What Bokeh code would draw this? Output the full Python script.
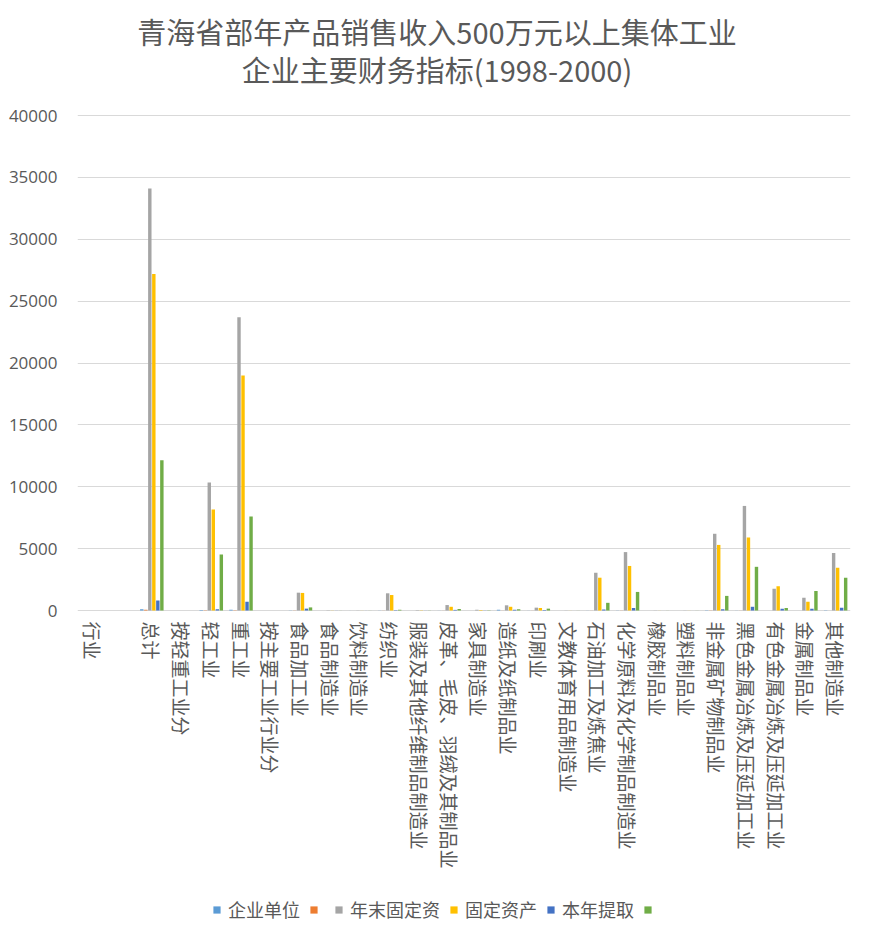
from bokeh.plotting import figure
from bokeh.models import (ColumnDataSource, FactorRange, Range1d, Legend, LegendItem,
                          FixedTicker, NumeralTickFormatter)
from bokeh.transform import dodge
from bokeh.core.properties import value
from bokeh.embed import file_html
from bokeh.resources import INLINE
import math

title_lines = ["青海省部年产品销售收入500万元以上集体工业", "企业主要财务指标(1998-2000)"]

categories = ["行业", " ", "总计", "按轻重工业分", "轻工业", "重工业", "按主要工业行业分",
              "食品加工业", "食品制造业", "饮料制造业", "纺织业", "服装及其他纤维制品制造业",
              "皮革、毛皮、羽绒及其制品业", "家具制造业", "造纸及纸制品业", "印刷业",
              "文教体育用品制造业", "石油加工及炼焦业", "化学原料及化学制品制造业",
              "橡胶制品业", "塑料制品业", "非金属矿物制品业", "黑色金属冶炼及压延加工业",
              "有色金属冶炼及压延加工业", "金属制品业", "其他制造业"]

series_names = ["企业单位", "", "年末固定资", "固定资产", "本年提取", ""]

qiye_danwei = [0, 0, 110, 0, 50, 60, 0, 12, 2, 3, 8, 2, 5, 2, 60, 5, 1, 5, 10, 1, 1, 20, 6, 4, 5, 12]
series_b    = [0, 0, 60, 0, 30, 30, 0, 10, 1, 2, 6, 1, 4, 1, 5, 4, 1, 4, 8, 1, 1, 12, 5, 3, 4, 8]
nianmo_gdz  = [0, 0, 34100, 0, 10350, 23700, 0, 1440, 20, 10, 1390, 30, 440, 60, 420, 230, 10,
               3050, 4720, 10, 10, 6200, 8450, 1750, 1030, 4650]
guding_zc   = [0, 0, 27200, 0, 8170, 19000, 0, 1420, 10, 5, 1250, 20, 300, 40, 300, 200, 5,
               2650, 3600, 5, 5, 5300, 5900, 1960, 710, 3450]
benian_tq   = [0, 0, 800, 0, 100, 700, 0, 150, 5, 3, 30, 5, 50, 10, 60, 40, 2,
               80, 200, 2, 2, 100, 300, 150, 150, 220]
series_f    = [0, 0, 12150, 0, 4520, 7600, 0, 250, 5, 5, 60, 10, 120, 20, 100, 150, 5,
               620, 1500, 5, 5, 1180, 3530, 200, 1580, 2650]

y_ticks = [0, 5000, 10000, 15000, 20000, 25000, 30000, 35000, 40000]

colors = ["#5B9BD5", "#ED7D31", "#A5A5A5", "#FFC000", "#4472C4", "#70AD47"]
keys = ["a", "b", "c", "d", "e", "f"]

source = ColumnDataSource(dict(cat=categories, a=qiye_danwei, b=series_b, c=nianmo_gdz,
                               d=guding_zc, e=benian_tq, f=series_f))

CJK = "Noto Sans CJK SC"
TXT = "#595959"

# layout (pixels): frame covers the full height; value axis 0..40000 spans px 115..610
W, H = 873, 942
LEFT, RIGHT = 77, 23
TOP_PX, ZERO_PX = 115, 610
ymax_val = y_ticks[-1]
per_px = ymax_val / (ZERO_PX - TOP_PX)
y_top = ymax_val + TOP_PX * per_px
y_bot = -(H - ZERO_PX) * per_px

p = figure(frame_width=W - LEFT - RIGHT, frame_height=H,
           x_range=FactorRange(factors=categories, range_padding=0),
           y_range=Range1d(y_bot, y_top), output_backend="svg", toolbar_location=None,
           min_border_left=LEFT, min_border_right=RIGHT, min_border_top=0, min_border_bottom=0)

step = 0.135
items = []
for i, (k, col, nm) in enumerate(zip(keys, colors, series_names)):
    off = (i - 2.5) * step
    r = p.vbar(x=dodge("cat", off, range=p.x_range), top=k, width=0.115, source=source,
               fill_color=col, line_color=None)
    items.append(LegendItem(label=nm, renderers=[r]))

# category labels under the baseline, rotated to read top-to-bottom
p.text(x=categories, y=[0] * len(categories), text=categories, angle=-math.pi / 2,
       y_offset=11, text_align="left", text_baseline="middle",
       text_font=value(CJK), text_font_size="19px", text_color=TXT)

# two-line title, centred on the chart
mid = len(categories) / 2
p.text(x=[mid, mid], y=[y_top, y_top], text=title_lines, x_offset=-27, y_offset=[30, 68],
       text_align="center", text_baseline="middle",
       text_font=value(CJK), text_font_size="29px", text_color=TXT)

legend = Legend(items=items, orientation="horizontal", location=(135, 20),
                border_line_color=None, background_fill_alpha=0,
                label_text_font=CJK, label_text_font_size="18px", label_text_color=TXT,
                glyph_width=9, glyph_height=9, label_standoff=7, spacing=9,
                label_width=0, margin=0, padding=0)
p.add_layout(legend, "center")

p.yaxis.ticker = FixedTicker(ticks=y_ticks)
p.yaxis.formatter = NumeralTickFormatter(format="0")
p.yaxis.axis_line_color = None
p.yaxis.major_tick_line_color = None
p.yaxis.minor_tick_line_color = None
p.yaxis.major_label_text_font = "Open Sans"
p.yaxis.major_label_text_font_size = "17px"
p.yaxis.major_label_text_color = TXT
p.yaxis.major_label_standoff = 14

p.xaxis.visible = False
p.xgrid.grid_line_color = None
p.ygrid.grid_line_color = "#D9D9D9"
p.outline_line_color = None

open("out.html", "w").write(file_html(p, INLINE))
